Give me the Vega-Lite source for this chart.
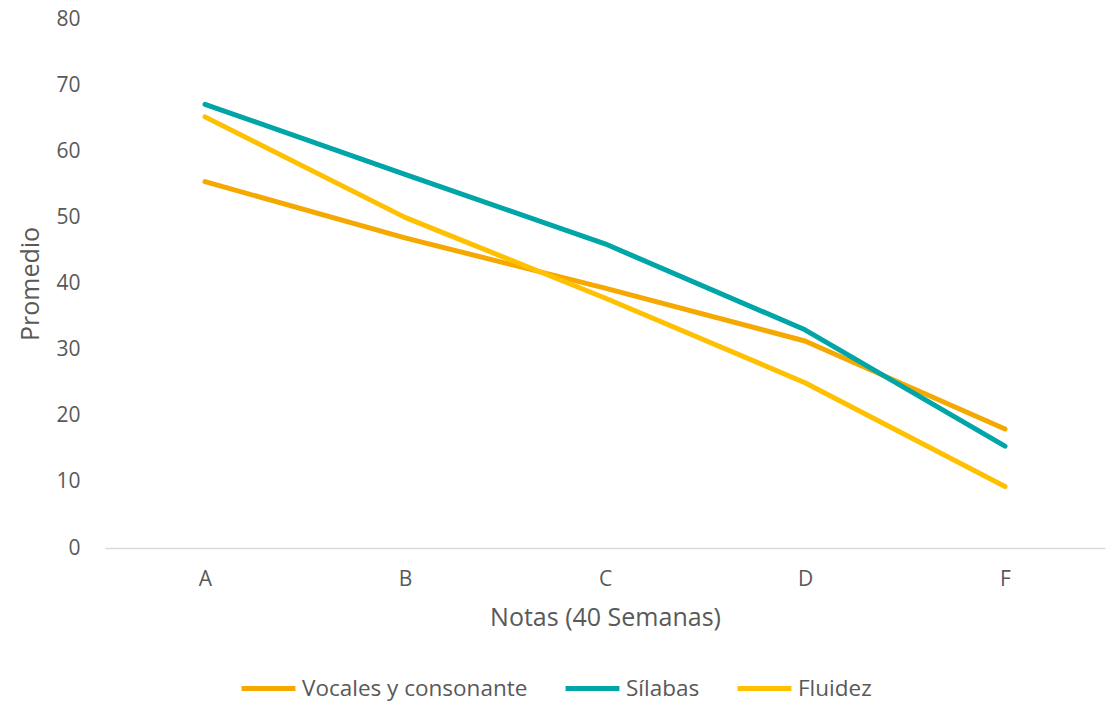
{
  "$schema": "https://vega.github.io/schema/vega-lite/v6.json",
  "width": 1000,
  "height": 529,
  "autosize": {"type": "none"},
  "padding": {"left": 105, "top": 19, "right": 10, "bottom": 156},
  "background": "white",
  "config": {
    "view": {"stroke": null},
    "font": "Open Sans",
    "axis": {"labelFont": "Open Sans", "titleFont": "Open Sans", "labelColor": "#595959", "titleColor": "#595959", "labelFontSize": 21, "titleFontSize": 25, "titleFontWeight": "normal", "grid": false}
  },
  "data": {
    "values": [
      {"nota": "A", "serie": "Vocales y consonante", "valor": 55.4},
      {"nota": "B", "serie": "Vocales y consonante", "valor": 46.9},
      {"nota": "C", "serie": "Vocales y consonante", "valor": 39.3},
      {"nota": "D", "serie": "Vocales y consonante", "valor": 31.3},
      {"nota": "F", "serie": "Vocales y consonante", "valor": 18.0},
      {"nota": "A", "serie": "Sílabas", "valor": 67.1},
      {"nota": "B", "serie": "Sílabas", "valor": 56.5},
      {"nota": "C", "serie": "Sílabas", "valor": 46.0},
      {"nota": "D", "serie": "Sílabas", "valor": 33.0},
      {"nota": "F", "serie": "Sílabas", "valor": 15.4},
      {"nota": "A", "serie": "Fluidez", "valor": 65.2},
      {"nota": "B", "serie": "Fluidez", "valor": 50.0},
      {"nota": "C", "serie": "Fluidez", "valor": 37.8},
      {"nota": "D", "serie": "Fluidez", "valor": 25.0},
      {"nota": "F", "serie": "Fluidez", "valor": 9.3}
    ]
  },
  "mark": {"type": "line", "strokeWidth": 5, "strokeCap": "round", "strokeJoin": "round"},
  "encoding": {
    "x": {
      "field": "nota", "type": "ordinal",
      "scale": {"type": "point", "padding": 0.5},
      "axis": {"title": "Notas (40 Semanas)", "labelAngle": 0, "domainColor": "#D9D9D9", "domainWidth": 1.5, "ticks": false, "labelPadding": 20, "titlePadding": 16}
    },
    "y": {
      "field": "valor", "type": "quantitative",
      "scale": {"domain": [0, 80]},
      "axis": {"title": "Promedio", "values": [0,10,20,30,40,50,60,70,80], "domain": false, "ticks": false, "labelPadding": 25, "titlePadding": 12}
    },
    "color": {
      "field": "serie", "type": "nominal",
      "scale": {"domain": ["Vocales y consonante", "Sílabas", "Fluidez"], "range": ["#F5A800", "#00A5A8", "#FFC000"]},
      "legend": {"title": null, "orient": "none", "direction": "horizontal", "legendX": 134, "legendY": 640, "symbolType": "stroke", "symbolSize": 2900, "symbolStrokeWidth": 5, "labelFontSize": 22.5, "labelColor": "#595959", "labelFont": "Open Sans", "labelLimit": 400, "columnPadding": 27, "labelOffset": 4}
    }
  }
}
